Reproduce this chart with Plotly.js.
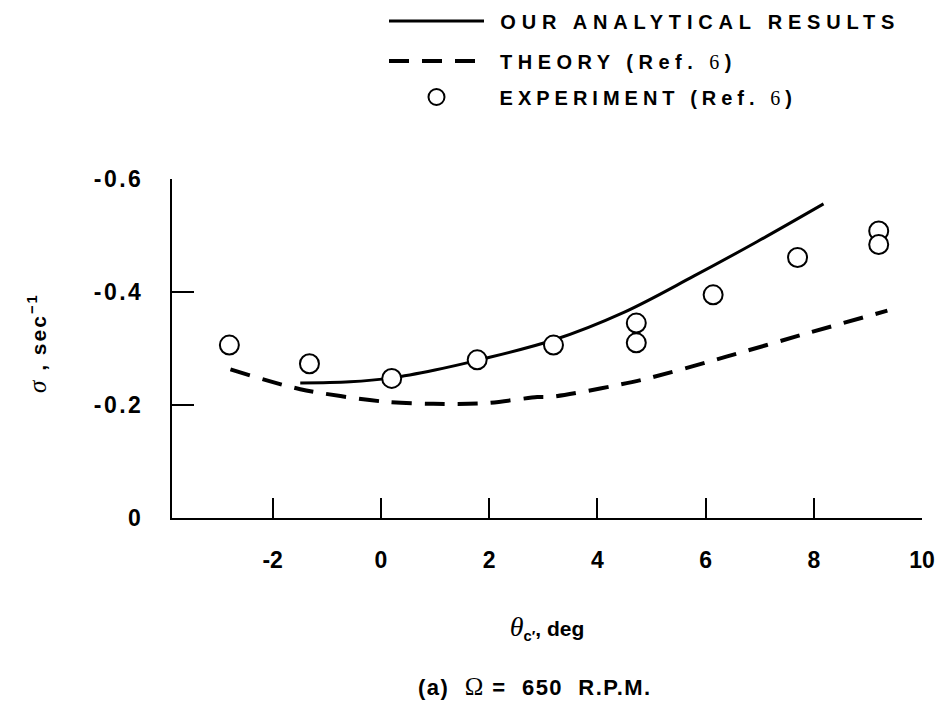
<!DOCTYPE html>
<html>
<head>
<meta charset="utf-8">
<script src="https://cdn.plot.ly/plotly-3.0.1.min.js"></script>
<style>html,body{margin:0;padding:0;background:#fff;}</style>
</head>
<body>
<div id="chart" style="width:939px;height:701px;"></div>
<script>
// ---- data ----
var analyticalX = [-1.49, -0.57, 0.2, 1.0, 1.78, 3.19, 4.49, 5.78, 6.95, 8.18];
var analyticalY = [-0.239, -0.241, -0.248, -0.262, -0.279, -0.315, -0.364, -0.428, -0.489, -0.556];

var theoryX = [-2.78, -1.49, 0.05, 0.97, 1.90, 2.89, 3.19, 4.80, 6.40, 7.88, 9.36];
var theoryY = [-0.263, -0.228, -0.206, -0.202, -0.203, -0.214, -0.215, -0.244, -0.286, -0.327, -0.367];

var experimentX = [-2.80, -1.32, 0.20, 1.78, 3.19, 4.72, 4.72, 6.14, 7.70, 9.20, 9.20];
var experimentY = [-0.306, -0.273, -0.247, -0.280, -0.306, -0.345, -0.310, -0.395, -0.461, -0.508, -0.484];

var xTickVals = [-2, 0, 2, 4, 6, 8, 10];
var xTickText = ['-2', '0', '2', '4', '6', '8', '10'];
var yTickVals = [0, -0.2, -0.4, -0.6];
var yTickText = ['0', '-0.2', '-0.4', '-0.6'];

var seriesNames = [
  "<span style='letter-spacing:5.8px'> OUR ANALYTICAL RESULTS</span>",
  "<span style='letter-spacing:5.5px'> THEORY (Ref. <span style='font-family:\"Liberation Serif\";font-weight:normal'>6</span>)</span>",
  "<span style='letter-spacing:5px'> EXPERIMENT (Ref. <span style='font-family:\"Liberation Serif\";font-weight:normal'>6</span>)</span>"
];

var SERIF = "font-family:\"Liberation Serif\";font-style:italic;font-weight:normal;";
var SANS = 'Liberation Sans, Arial, sans-serif';
var LEG = {family: SANS, size: 20, color: '#000', weight: 'bold'};

var traces = [
  {x: analyticalX, y: analyticalY, mode: 'lines', name: seriesNames[0], legend: 'legend',
   line: {color: '#000', width: 3, shape: 'spline', smoothing: 1}},
  {x: theoryX, y: theoryY, mode: 'lines', name: seriesNames[1], legend: 'legend2',
   line: {color: '#000', width: 4, dash: '20px,13px', shape: 'spline', smoothing: 0.8}},
  {x: experimentX, y: experimentY, mode: 'markers', name: seriesNames[2], legend: 'legend3',
   marker: {symbol: 'circle', size: 19, color: '#fff', line: {color: '#000', width: 2}}}
];

function legendAt(py) {
  return {xref: 'container', yref: 'container', x: 384 / 939, y: 1 - py / 701,
          xanchor: 'left', yanchor: 'middle', font: LEG, itemwidth: 95,
          bgcolor: 'rgba(0,0,0,0)', borderwidth: 0};
}

var layout = {
  width: 939, height: 701,
  margin: {l: 172, r: 17, t: 179, b: 183, autoexpand: false},
  paper_bgcolor: '#fff', plot_bgcolor: '#fff',
  showlegend: true,
  legend: legendAt(21),
  legend2: legendAt(61),
  legend3: legendAt(97),
  xaxis: {
    range: [-3.86, 10.0], tickmode: 'array', tickvals: xTickVals, ticktext: xTickText,
    ticks: 'inside', ticklen: 20, tickwidth: 2, tickcolor: '#000',
    showline: true, linewidth: 2, linecolor: '#000', showgrid: false, zeroline: false,
    tickfont: {family: SANS, size: 23, color: '#000', weight: 'bold'}, ticklabelstandoff: 20,
    title: {text: "<span style='" + SERIF + "font-size:28px'>θ</span><sub>c′</sub>, deg",
            font: {family: SANS, size: 21, color: '#000', weight: 'bold'}, standoff: 50},
    automargin: true
  },
  yaxis: {
    range: [0, -0.6], tickmode: 'array', tickvals: yTickVals,
    ticktext: yTickText.map(function (t) { return "<span style='letter-spacing:2.5px'>" + t + "</span>"; }),
    ticks: 'inside', ticklen: 22, tickwidth: 2, tickcolor: '#000',
    showline: true, linewidth: 2, linecolor: '#000', showgrid: false, zeroline: false,
    tickfont: {family: SANS, size: 23, color: '#000', weight: 'bold'}, ticklabelstandoff: 22
  },
  annotations: [
    {xref: 'paper', yref: 'paper', x: (37 - 172) / 750, y: (518 - 343) / 339, xanchor: 'center', yanchor: 'middle',
     textangle: -90, showarrow: false,
     text: "<span style='letter-spacing:2px'><span style='" + SERIF + "font-size:25px'>σ</span> , sec<sup>−1</sup></span>",
     font: {family: SANS, size: 21, color: '#000', weight: 'bold'}},
    {xref: 'paper', yref: 'paper', x: (535 - 172) / 750, y: (518 - 686) / 339, xanchor: 'center', yanchor: 'middle',
     showarrow: false,
     text: "<span style='letter-spacing:1.5px'>(a)  <span style='font-family:\"Liberation Serif\";font-weight:normal;font-size:25px'>Ω</span> =  650  R.P.M.</span>",
     font: {family: SANS, size: 22, color: '#000', weight: 'bold'}}
  ]
};

Plotly.newPlot('chart', traces, layout, {displayModeBar: false, staticPlot: true});
</script>
</body>
</html>
